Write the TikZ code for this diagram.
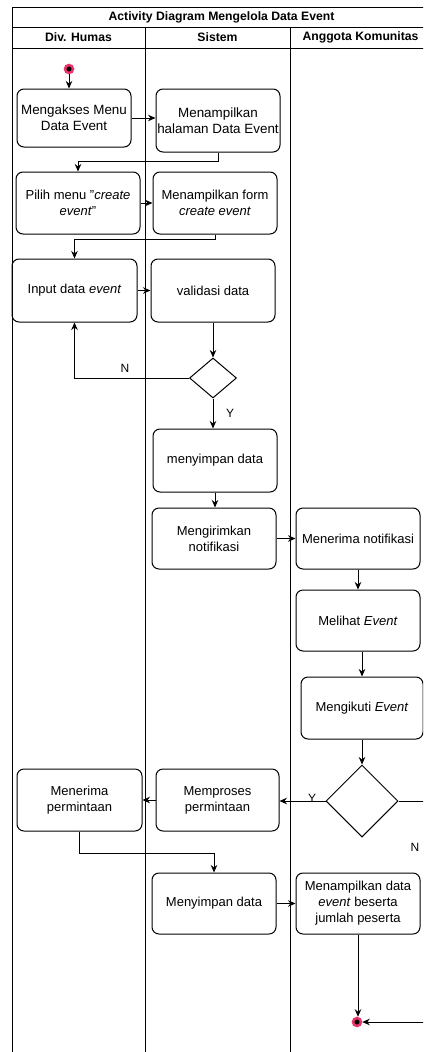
\documentclass[tikz,border=0pt]{standalone}
\usepackage{fontspec}
\setmainfont{Liberation Sans}
\usetikzlibrary{arrows.meta,shapes.geometric}
\definecolor{startred}{HTML}{E8336B}
\begin{document}
\begin{tikzpicture}[x=1pt,y=-1pt,
  every node/.style={font=\fontsize{13}{16}\selectfont},
  act/.style={draw, rounded corners=7pt, align=center, inner sep=0pt, line width=1pt, minimum width=124pt, minimum height=62pt},
  dec/.style={draw, diamond, inner sep=0pt, line width=1pt},
  flow/.style={line width=1pt, -{Stealth[length=7.5pt,width=6.5pt]}},
  hdr/.style={font=\bfseries\fontsize{12.2}{14}\selectfont},
  lane/.style={line width=1pt},
  lbl/.style={font=\fontsize{12}{14}\selectfont},
  pseudo/.style={circle, draw=startred, fill=black, line width=2.5pt, minimum size=8pt, inner sep=0pt},
]
\useasboundingbox (0,0) rectangle (423,1052);
\clip (0,0) rectangle (423,1052);
\fill[white] (0,0) rectangle (423,1052);

% swimlane frame
\draw[lane] (12,1060) -- (12,7) -- (431,7) -- (431,1060);
\draw[lane] (12,27) -- (431,27);
\draw[lane] (12,48) -- (431,48);
\draw[lane] (145,27) -- (145,1060);
\draw[lane] (290,27) -- (290,1060);
\node[hdr] (title) at (221.5,17) {Activity Diagram Mengelola Data Event};
\node[hdr] (h1) at (78.5,37.5) {Div. Humas};
\node[hdr] (h2) at (217.5,37.5) {Sistem};
\node[hdr] (h3) at (360.5,37.5) {Anggota Komunitas};

% nodes
\node[pseudo] (start) at (69,69) {};
\node[act, minimum width=114pt, minimum height=58pt, font=\fontsize{13.4}{16}\selectfont] (b1) at (74,118) {Mengakses Menu\\Data Event};
\node[act, minimum height=63pt, font=\fontsize{13.4}{16}\selectfont] (b2) at (218,120.5) {Menampilkan\\halaman Data Event};
\node[act] (b3) at (78,203) {Pilih menu "\textit{create}\\\textit{event}"};
\node[act] (b4) at (215,203) {Menampilkan form\\\textit{create event}};
\node[act, minimum width=125pt, minimum height=63pt] (b5) at (74.5,290.5) {Input data \textit{event}};
\node[act, minimum height=63pt] (b6) at (213,290.5) {validasi data};
\node[dec, minimum width=47pt, minimum height=40pt] (d1) at (213,378) {};
\node[act, minimum height=63pt] (b7) at (215,460.5) {menyimpan data};
\node[act, minimum height=61pt] (b8) at (214,538.5) {Mengirimkan\\notifikasi};
\node[act, minimum height=61pt] (b9) at (358,538.5) {Menerima notifikasi};
\node[act, minimum height=61pt] (b10) at (358,620.5) {Melihat \textit{Event}};
\node[act, minimum width=122pt] (b11) at (362,708) {Mengikuti \textit{Event}};
\node[dec, minimum width=72pt, minimum height=72pt] (d2) at (362,801) {};
\node[act, minimum width=123pt] (b12) at (217.5,800) {Memproses\\permintaan};
\node[act, minimum width=125pt] (b13) at (79.5,800) {Menerima\\permintaan};
\node[act, minimum height=61pt] (b14) at (214,903.5) {Menyimpan data};
\node[act, minimum height=61pt] (b15) at (358,903.5) {Menampilkan data\\\textit{event} beserta\\jumlah peserta};
\node[pseudo] (end) at (357,1022) {};

% connectors
\draw[flow] (start.south) -- (start.south |- b1.north);
\draw[flow] (b1.east) -- (b1.east -| b2.west);
\draw[flow] (b2.south) -- (218,161) -| (b3.north);
\draw[flow] (b3.east) -- (b3.east -| b4.west);
\draw[flow] (b4.south) -- (215,239) -| (b5.north);
\draw[flow] (b5.east) -- (b5.east -| b6.west);
\draw[flow] (b6.south) -- (d1.north);
\draw[flow] (d1.west) -| (b5.south);
\node[lbl] (ln1) at (125,368) {N};
\draw[flow] (d1.south) -- (d1.south |- b7.north);
\node[lbl] (ly1) at (230,413) {Y};
\draw[flow] (b7.south) -- (b7.south |- b8.north);
\draw[flow] (b8.east) -- (b8.east -| b9.west);
\draw[flow] (b9.south) -- (b9.south |- b10.north);
\draw[flow] (b11.north |- b10.south) -- (b11.north);
\draw[flow] (b11.south) -- (d2.north);
\draw[flow] (d2.west) -- (d2.west -| b12.east);
\node[lbl] (ly2) at (312,798) {Y};
\draw[flow] (b12.west) -- (b12.west -| b13.east);
\draw[flow] (b13.south) -- (79.5,853) -| (b14.north);
\draw[flow] (b14.east) -- (b14.east -| b15.west);
\draw[flow] (b15.south) -- (b15.south |- end.north);
\coordinate (rt) at (424,801);
\coordinate (rb) at (424,1022);
\draw[flow] (d2.east) -- (rt) -- (rb) -- (end.east);
\node[lbl] (ln2) at (415,847) {N};
\end{tikzpicture}
\end{document}
